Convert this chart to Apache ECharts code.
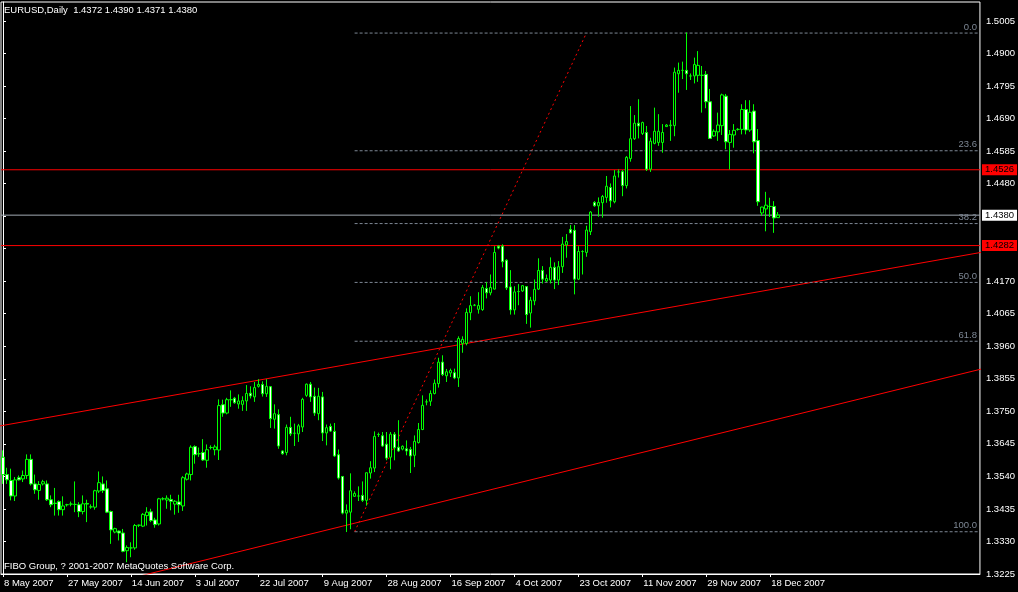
<!DOCTYPE html>
<html><head><meta charset="utf-8">
<script src="https://cdn.jsdelivr.net/npm/echarts@6/dist/echarts.min.js"></script>
<style>html,body{margin:0;padding:0;background:#000}#c{width:1018px;height:592px}</style>
</head><body><div id="c"></div><script>
// ---- data ----
const symbolName = 'EURUSD,Daily';
const copyright = 'FIBO Group, ? 2001-2007 MetaQuotes Software Corp.';
const tickLabels = ['8 May 2007','27 May 2007','14 Jun 2007','3 Jul 2007','22 Jul 2007','9 Aug 2007','28 Aug 2007','16 Sep 2007','4 Oct 2007','23 Oct 2007','11 Nov 2007','29 Nov 2007','18 Dec 2007'];
const barsPerLabel = 16;
const barSlots = 245;
// [open, close, low, high]
const candles = [
[1.3601,1.3545,1.3515,1.3623],[1.3545,1.3528,1.3515,1.3567],[1.3526,1.3476,1.3462,1.3564],[1.3476,1.3528,1.3460,1.3537],[1.3535,1.3528,1.3526,1.3542],
[1.3531,1.3542,1.3521,1.3558],[1.3542,1.3594,1.3531,1.3610],[1.3594,1.3515,1.3510,1.3610],[1.3515,1.3496,1.3483,1.3545],[1.3494,1.3513,1.3464,1.3524],
[1.3515,1.3522,1.3510,1.3528],[1.3515,1.3464,1.3460,1.3526],[1.3464,1.3448,1.3440,1.3478],[1.3453,1.3452,1.3413,1.3502],[1.3458,1.3432,1.3413,1.3462],
[1.3432,1.3444,1.3413,1.3475],[1.3448,1.3448,1.3442,1.3451],[1.3450,1.3450,1.3443,1.3458],[1.3449,1.3449,1.3424,1.3523],[1.3448,1.3426,1.3408,1.3456],
[1.3426,1.3451,1.3417,1.3478],[1.3452,1.3450,1.3392,1.3464],[1.3441,1.3441,1.3435,1.3449],[1.3440,1.3493,1.3432,1.3496],[1.3492,1.3519,1.3486,1.3555],
[1.3515,1.3494,1.3486,1.3539],[1.3499,1.3424,1.3421,1.3526],[1.3426,1.3367,1.3322,1.3429],[1.3360,1.3371,1.3356,1.3374],[1.3363,1.3357,1.3333,1.3365],
[1.3357,1.3298,1.3295,1.3370],[1.3300,1.3310,1.3263,1.3317],[1.3309,1.3309,1.3279,1.3327],[1.3309,1.3381,1.3303,1.3386],[1.3382,1.3382,1.3376,1.3384],
[1.3379,1.3417,1.3376,1.3421],[1.3413,1.3424,1.3381,1.3440],[1.3425,1.3397,1.3392,1.3435],[1.3399,1.3384,1.3374,1.3406],[1.3386,1.3467,1.3381,1.3470],
[1.3467,1.3467,1.3462,1.3472],[1.3463,1.3469,1.3435,1.3478],[1.3465,1.3459,1.3430,1.3480],[1.3450,1.3459,1.3416,1.3463],[1.3457,1.3448,1.3422,1.3480],
[1.3444,1.3535,1.3428,1.3540],[1.3530,1.3547,1.3526,1.3551],[1.3545,1.3633,1.3526,1.3639],[1.3635,1.3609,1.3580,1.3639],[1.3612,1.3612,1.3602,1.3632],
[1.3616,1.3592,1.3589,1.3659],[1.3591,1.3625,1.3567,1.3642],[1.3632,1.3632,1.3626,1.3639],[1.3625,1.3634,1.3607,1.3641],[1.3624,1.3767,1.3592,1.3787],
[1.3770,1.3743,1.3731,1.3786],[1.3743,1.3786,1.3739,1.3792],[1.3786,1.3786,1.3763,1.3816],[1.3791,1.3776,1.3773,1.3795],[1.3772,1.3782,1.3757,1.3803],
[1.3771,1.3783,1.3750,1.3797],[1.3782,1.3806,1.3750,1.3833],[1.3807,1.3798,1.3790,1.3829],[1.3795,1.3825,1.3779,1.3843],[1.3829,1.3835,1.3825,1.3852],
[1.3835,1.3805,1.3796,1.3845],[1.3805,1.3829,1.3795,1.3852],[1.3828,1.3725,1.3695,1.3830],[1.3723,1.3741,1.3693,1.3771],[1.3738,1.3637,1.3628,1.3755],
[1.3621,1.3612,1.3609,1.3623],[1.3616,1.3697,1.3607,1.3706],[1.3697,1.3676,1.3669,1.3731],[1.3678,1.3678,1.3637,1.3709],[1.3676,1.3702,1.3650,1.3708],
[1.3698,1.3787,1.3682,1.3792],[1.3800,1.3836,1.3795,1.3838],[1.3836,1.3795,1.3779,1.3843],[1.3797,1.3743,1.3734,1.3825],[1.3741,1.3797,1.3720,1.3824],
[1.3795,1.3679,1.3653,1.3811],[1.3679,1.3696,1.3639,1.3706],[1.3700,1.3685,1.3682,1.3709],[1.3684,1.3605,1.3602,1.3711],[1.3609,1.3534,1.3529,1.3626],
[1.3539,1.3421,1.3417,1.3539],[1.3421,1.3430,1.3360,1.3449],[1.3424,1.3493,1.3369,1.3549],[1.3475,1.3484,1.3473,1.3491],[1.3476,1.3476,1.3460,1.3507],
[1.3478,1.3462,1.3457,1.3523],[1.3462,1.3551,1.3445,1.3551],[1.3550,1.3567,1.3532,1.3588],[1.3566,1.3668,1.3553,1.3684],[1.3674,1.3674,1.3666,1.3680],
[1.3670,1.3637,1.3634,1.3682],[1.3643,1.3598,1.3591,1.3682],[1.3601,1.3675,1.3562,1.3682],[1.3675,1.3631,1.3591,1.3682],[1.3633,1.3621,1.3618,1.3720],
[1.3627,1.3636,1.3623,1.3639],[1.3628,1.3621,1.3607,1.3655],[1.3626,1.3605,1.3550,1.3634],[1.3607,1.3652,1.3569,1.3671],[1.3648,1.3690,1.3645,1.3711],
[1.3690,1.3768,1.3688,1.3800],[1.3779,1.3779,1.3768,1.3787],[1.3781,1.3806,1.3766,1.3816],[1.3806,1.3839,1.3803,1.3851],[1.3838,1.3907,1.3825,1.3921],
[1.3907,1.3867,1.3862,1.3929],[1.3863,1.3876,1.3843,1.3885],[1.3872,1.3880,1.3859,1.3886],[1.3873,1.3856,1.3852,1.3886],[1.3856,1.3983,1.3827,1.3990],
[1.3967,1.3980,1.3937,1.3990],[1.3967,1.4067,1.3961,1.4080],[1.4066,1.4089,1.4042,1.4119],[1.4090,1.4090,1.4087,1.4094],[1.4077,1.4089,1.4063,1.4132],
[1.4076,1.4147,1.4072,1.4155],[1.4144,1.4130,1.4112,1.4165],[1.4130,1.4147,1.4122,1.4189],[1.4142,1.4260,1.4141,1.4280],[1.4280,1.4274,1.4270,1.4283],
[1.4280,1.4230,1.4212,1.4286],[1.4235,1.4146,1.4139,1.4238],[1.4149,1.4075,1.4060,1.4203],[1.4075,1.4133,1.4060,1.4151],[1.4134,1.4134,1.4090,1.4158],
[1.4136,1.4153,1.4133,1.4155],[1.4150,1.4060,1.4030,1.4151],[1.4065,1.4106,1.4018,1.4117],[1.4104,1.4141,1.4090,1.4173],[1.4142,1.4202,1.4139,1.4241],
[1.4202,1.4174,1.4160,1.4216],[1.4168,1.4176,1.4165,1.4189],[1.4171,1.4212,1.4160,1.4244],[1.4212,1.4171,1.4142,1.4228],[1.4171,1.4214,1.4155,1.4232],
[1.4214,1.4287,1.4194,1.4310],[1.4284,1.4295,1.4243,1.4319],[1.4334,1.4323,1.4321,1.4348],[1.4331,1.4174,1.4125,1.4348],[1.4174,1.4263,1.4171,1.4280],
[1.4263,1.4263,1.4189,1.4267],[1.4260,1.4332,1.4246,1.4346],[1.4327,1.4390,1.4316,1.4393],[1.4421,1.4410,1.4407,1.4425],[1.4410,1.4421,1.4375,1.4437],
[1.4420,1.4440,1.4372,1.4445],[1.4437,1.4473,1.4420,1.4506],[1.4469,1.4426,1.4405,1.4482],[1.4423,1.4506,1.4418,1.4525],[1.4519,1.4519,1.4501,1.4527],
[1.4520,1.4475,1.4441,1.4525],[1.4475,1.4566,1.4466,1.4570],[1.4562,1.4626,1.4552,1.4731],[1.4626,1.4676,1.4622,1.4702],[1.4676,1.4667,1.4627,1.4753],
[1.4643,1.4678,1.4638,1.4681],[1.4646,1.4528,1.4522,1.4667],[1.4528,1.4618,1.4519,1.4629],[1.4611,1.4650,1.4608,1.4726],[1.4614,1.4650,1.4603,1.4705],
[1.4614,1.4646,1.4581,1.4673],[1.4665,1.4670,1.4664,1.4673],[1.4668,1.4670,1.4619,1.4686],[1.4668,1.4840,1.4634,1.4855],[1.4835,1.4846,1.4774,1.4871],
[1.4846,1.4846,1.4818,1.4874],[1.4846,1.4835,1.4783,1.4968],[1.4828,1.4828,1.4815,1.4836],[1.4828,1.4865,1.4804,1.4887],[1.4830,1.4862,1.4809,1.4908],
[1.4830,1.4830,1.4710,1.4860],[1.4833,1.4745,1.4724,1.4844],[1.4745,1.4627,1.4625,1.4786],[1.4635,1.4650,1.4632,1.4656],[1.4648,1.4670,1.4619,1.4710],
[1.4668,1.4767,1.4638,1.4771],[1.4763,1.4616,1.4592,1.4770],[1.4614,1.4640,1.4527,1.4654],[1.4638,1.4653,1.4597,1.4673],[1.4656,1.4656,1.4652,1.4660],
[1.4656,1.4720,1.4640,1.4737],[1.4720,1.4654,1.4640,1.4750],[1.4654,1.4711,1.4648,1.4750],[1.4715,1.4616,1.4579,1.4737],[1.4620,1.4423,1.4410,1.4657],
[1.4387,1.4406,1.4378,1.4407],[1.4400,1.4412,1.4328,1.4455],[1.4408,1.4408,1.4374,1.4436],[1.4408,1.4371,1.4323,1.4425],[1.4372,1.4380,1.4371,1.4390]
];
// price scale: 17 equal label steps from bottom label to top label
const yMin = 1.3225, yTopLabel = 1.5005, yMax = 1.5066, yLabelSteps = 17;
// labels as printed (two are covered by the price boxes)
const yTickLabels = ['1.3225','1.3330','1.3435','1.3540','1.3645','1.3750','1.3855','1.3960','1.4065','1.4170','','','1.4480','1.4585','1.4690','1.4795','1.4900','1.5005'];
// horizontal lines
const redLevels = [1.4526, 1.4282];
const bidPrice = 1.4380;
// trend channel lines: [bar index, price]
const upperChannel = [[-1, 1.3701], [250, 1.4272]];
const lowerChannel = [[30, 1.3205], [250, 1.3901]];
// fibonacci retracement
const fiboStartBar = 88, fiboEndBar = 146;
const fiboLow = 1.3361, fiboHigh = 1.4966;
const fiboLevels = [0, 23.6, 38.2, 50, 61.8, 100];

// ---- chart ----
const FONT = '"Liberation Sans", Arial, sans-serif';
const FS = 9.5;
const categories = Array.from({length: barSlots}, (_, i) => String(i));
const last = candles[candles.length - 1];
const titleText = symbolName + '  ' + [last[0], last[3], last[2], last[1]].map(v => v.toFixed(4)).join(' ');
const xEnd = barSlots - 0.5;
const isLabelBar = i => i % barsPerLabel === 0 && i / barsPerLabel < tickLabels.length;

function endLabelLine(price, color, dash, labelCfg, z) {
  return {
    type: 'line', xAxisIndex: 1, yAxisIndex: 0, silent: true, clip: true,
    symbol: 'circle', symbolSize: 0.1, showSymbol: true,
    itemStyle: {color: 'rgba(0,0,0,0)'},
    lineStyle: {color: color, width: 1, type: dash},
    data: [{value: [-0.5, price]}, {value: [xEnd, price], label: labelCfg}],
    z: z
  };
}

const fiboSeries = fiboLevels.map(lv => {
  const p = fiboHigh - (fiboHigh - fiboLow) * lv / 100;
  const s = endLabelLine(p, '#7d8794', [3, 2], {show: true, formatter: lv.toFixed(1), position: 'top', align: 'right',
    distance: 1, offset: [-3, 0], color: '#7d8794', fontSize: FS, fontFamily: FONT}, 2);
  s.data[0].value[0] = fiboStartBar;
  return s;
});

const boxLabel = (text, bg) => ({show: true, formatter: text, position: 'right', distance: 2,
  backgroundColor: bg, color: '#000', padding: [1, 3, 0, 3], fontSize: FS, fontFamily: FONT});
const hSeries = redLevels.map(v => endLabelLine(v, '#ff0000', 'solid', boxLabel(v.toFixed(4), '#ff0000'), 2))
  .concat([endLabelLine(bidPrice, '#a3abb4', 'solid', boxLabel(bidPrice.toFixed(4), '#ffffff'), 2)]);

const option = {
  backgroundColor: '#000',
  animation: false,
  title: [
    {text: titleText, left: 4, top: 5, padding: 0, textStyle: {color: '#fff', fontSize: FS, fontWeight: 'normal', fontFamily: FONT}},
    {text: copyright, left: 4, top: 561, padding: 0, textStyle: {color: '#fff', fontSize: FS, fontWeight: 'normal', fontFamily: FONT}}
  ],
  grid: {left: 1, right: 37, top: 2, bottom: 18, show: true, borderColor: '#fff', borderWidth: 1, backgroundColor: 'transparent'},
  xAxis: [
    {type: 'category', data: categories, boundaryGap: true,
     axisLine: {show: true, lineStyle: {color: '#fff'}},
     axisTick: {show: true, alignWithLabel: true, length: 3, interval: isLabelBar, lineStyle: {color: '#fff'}},
     axisLabel: {interval: isLabelBar, formatter: (v, i) => tickLabels[i / barsPerLabel] || '',
                 color: '#fff', fontSize: FS, fontFamily: FONT, align: 'left', margin: 4, padding: [0, 0, 0, 1]},
     splitLine: {show: false}},
    {type: 'value', min: -0.5, max: xEnd, show: false}
  ],
  yAxis: {type: 'value', position: 'right', min: yMin, max: yMax, interval: (yTopLabel - yMin) / yLabelSteps,
    axisLine: {show: true, lineStyle: {color: '#fff'}},
    axisTick: {show: true, length: 3, lineStyle: {color: '#fff'}},
    axisLabel: {color: '#fff', fontSize: FS, fontFamily: FONT, margin: 6, showMaxLabel: false,
      formatter: (v, i) => (yTickLabels[i] !== undefined ? yTickLabels[i] : '')},
    splitLine: {show: false}},
  series: [
    {type: 'line', xAxisIndex: 1, silent: true, clip: true, symbol: 'none', data: upperChannel, lineStyle: {color: '#ff0000', width: 1}, z: 2},
    {type: 'line', xAxisIndex: 1, silent: true, clip: true, symbol: 'none', data: lowerChannel, lineStyle: {color: '#ff0000', width: 1}, z: 2},
    {type: 'line', xAxisIndex: 1, silent: true, clip: true, symbol: 'none', data: [[fiboStartBar, fiboLow], [fiboEndBar, fiboHigh]], lineStyle: {color: '#ff0000', width: 1, type: [2, 3]}, z: 2},
    ...fiboSeries,
    ...hSeries,
    {type: 'candlestick', data: candles, barWidth: 3, silent: true,
     itemStyle: {color: '#000000', color0: '#ffffff', borderColor: '#00ff00', borderColor0: '#00ff00', borderColorDoji: '#00ff00', borderWidth: 1},
     z: 3}
  ]
};
const chart = echarts.init(document.getElementById('c'));
chart.setOption(option);
</script></body></html>
